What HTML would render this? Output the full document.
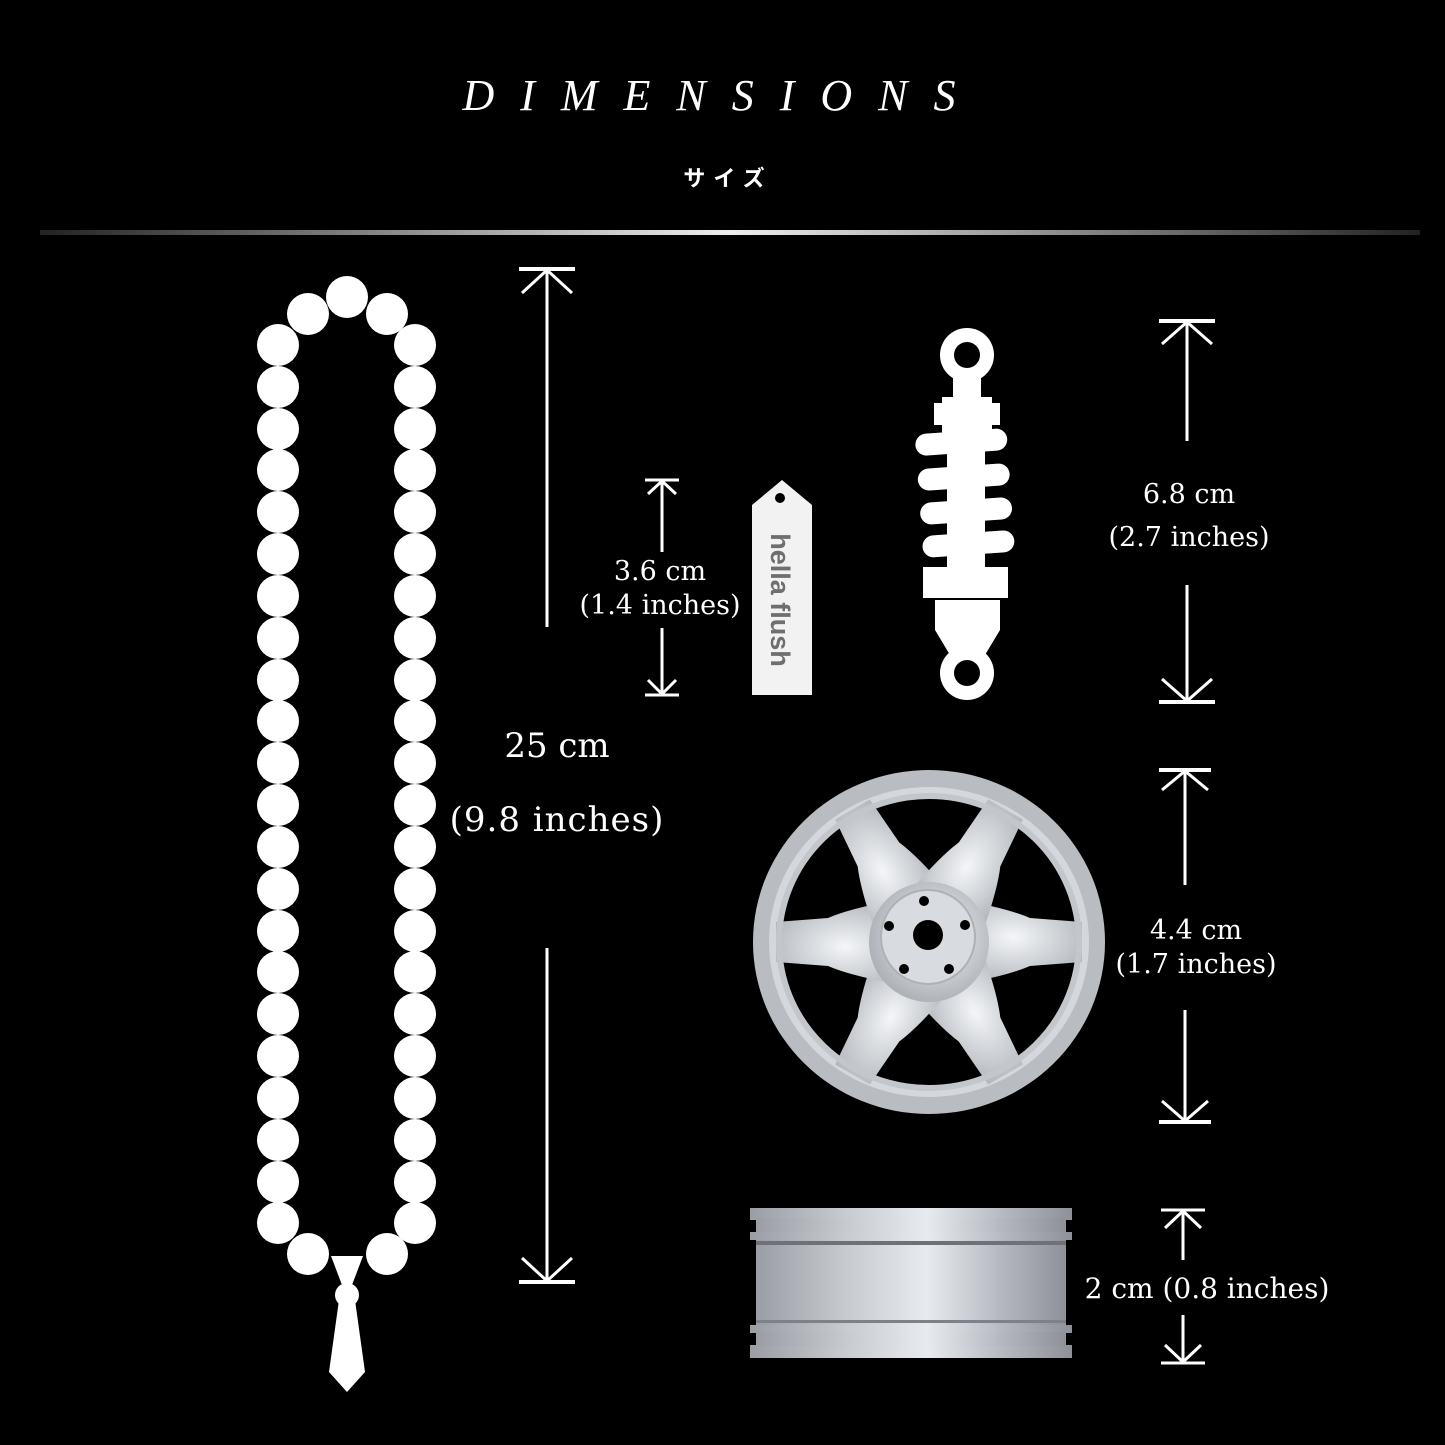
<!DOCTYPE html>
<html><head><meta charset="utf-8"><style>
html,body{margin:0;padding:0;background:#000;}
body{width:1445px;height:1445px;overflow:hidden;position:relative;}
svg{position:absolute;left:0;top:0;}
</style></head><body>
<svg width="1445" height="1445" viewBox="0 0 1445 1445" xmlns="http://www.w3.org/2000/svg">
<defs>
<linearGradient id="hl" x1="0" x2="1" y1="0" y2="0">
<stop offset="0" stop-color="#222"/><stop offset="0.5" stop-color="#eee"/><stop offset="1" stop-color="#222"/>
</linearGradient>
<radialGradient id="wh" cx="0.55" cy="0.45" r="0.6">
<stop offset="0" stop-color="#f4f6f8"/><stop offset="1" stop-color="#a9adb3"/>
</radialGradient>
<linearGradient id="rim" x1="0" x2="1" y1="0" y2="0">
<stop offset="0" stop-color="#9a9ea4"/><stop offset="0.3" stop-color="#c8ccd1"/><stop offset="0.55" stop-color="#e7eaee"/><stop offset="0.8" stop-color="#b3b7bd"/><stop offset="1" stop-color="#8e9298"/>
</linearGradient>
</defs>

<text x="722" y="110" text-anchor="middle" fill="#fff" font-family="Liberation Serif, serif" font-style="italic" font-size="44" letter-spacing="26">DIMENSIONS</text>
<text x="728" y="186" text-anchor="middle" fill="#fff" font-family="Liberation Sans, 'Noto Sans CJK JP', sans-serif" font-weight="bold" font-size="22" letter-spacing="8">サイズ</text>
<rect x="40" y="230" width="1380" height="5" fill="url(#hl)"/>

<g fill="#fff">
<circle cx="347" cy="297" r="21"/>
<circle cx="308" cy="314" r="21"/><circle cx="387" cy="314" r="21"/>
<g id="col">
<circle cx="278" cy="345" r="21"/><circle cx="278" cy="387" r="21"/><circle cx="278" cy="429" r="21"/><circle cx="278" cy="470" r="21"/><circle cx="278" cy="512" r="21"/><circle cx="278" cy="554" r="21"/><circle cx="278" cy="596" r="21"/><circle cx="278" cy="638" r="21"/><circle cx="278" cy="680" r="21"/><circle cx="278" cy="721" r="21"/><circle cx="278" cy="763" r="21"/><circle cx="278" cy="805" r="21"/><circle cx="278" cy="847" r="21"/><circle cx="278" cy="889" r="21"/><circle cx="278" cy="931" r="21"/><circle cx="278" cy="972" r="21"/><circle cx="278" cy="1014" r="21"/><circle cx="278" cy="1056" r="21"/><circle cx="278" cy="1098" r="21"/><circle cx="278" cy="1140" r="21"/><circle cx="278" cy="1182" r="21"/><circle cx="278" cy="1223" r="21"/>
</g>
<use href="#col" x="137"/>
<circle cx="308" cy="1254" r="21"/><circle cx="387" cy="1254" r="21"/>
<polygon points="331,1256 363,1256 352,1285 342,1285"/>
<circle cx="347" cy="1295" r="12"/>
<polygon points="339,1300 355,1300 365,1372 347,1392 329,1372"/>
</g>

<g stroke="#fff" stroke-width="3" fill="none">
<line x1="519" y1="269" x2="575" y2="269" stroke-width="4"/>
<line x1="547" y1="269" x2="547" y2="627"/>
<polyline points="522,293 547,270 572,293"/>
<line x1="547" y1="948" x2="547" y2="1281"/>
<polyline points="522,1258 547,1281 572,1258"/>
<line x1="519" y1="1282" x2="575" y2="1282" stroke-width="4"/>

<line x1="645" y1="480" x2="679" y2="480" stroke-width="3"/>
<line x1="662" y1="480" x2="662" y2="552"/>
<polyline points="648,494 662,481 676,494"/>
<line x1="662" y1="628" x2="662" y2="694"/>
<polyline points="648,680 662,694 676,680"/>
<line x1="645" y1="695" x2="679" y2="695" stroke-width="3"/>

<line x1="1159" y1="321" x2="1215" y2="321" stroke-width="4"/>
<line x1="1187" y1="321" x2="1187" y2="441"/>
<polyline points="1162,344 1187,322 1212,344"/>
<line x1="1187" y1="585" x2="1187" y2="702"/>
<polyline points="1162,679 1187,701 1212,679"/>
<line x1="1159" y1="702" x2="1215" y2="702" stroke-width="4"/>

<line x1="1159" y1="770" x2="1211" y2="770" stroke-width="4"/>
<line x1="1185" y1="770" x2="1185" y2="885"/>
<polyline points="1162,790 1185,771 1208,790"/>
<line x1="1185" y1="1010" x2="1185" y2="1121"/>
<polyline points="1162,1101 1185,1121 1208,1101"/>
<line x1="1159" y1="1122" x2="1211" y2="1122" stroke-width="4"/>

<line x1="1161" y1="1210" x2="1205" y2="1210" stroke-width="3"/>
<line x1="1183" y1="1210" x2="1183" y2="1260"/>
<polyline points="1165,1228 1183,1211 1201,1228"/>
<line x1="1183" y1="1315" x2="1183" y2="1362"/>
<polyline points="1165,1345 1183,1362 1201,1345"/>
<line x1="1161" y1="1363" x2="1205" y2="1363" stroke-width="3"/>
</g>

<g fill="#fff" font-family="DejaVu Serif, serif" text-anchor="middle">
<text x="557" y="757" font-size="34">25 cm</text>
<text x="557" y="831" font-size="34" letter-spacing="1">(9.8 inches)</text>
<text x="660" y="580" font-size="27">3.6 cm</text>
<text x="660" y="614" font-size="27">(1.4 inches)</text>
<text x="1189" y="503" font-size="27">6.8 cm</text>
<text x="1189" y="546" font-size="27">(2.7 inches)</text>
<text x="1196" y="939" font-size="27">4.4 cm</text>
<text x="1196" y="973" font-size="27">(1.7 inches)</text>
<text x="1207" y="1298" font-size="28">2 cm (0.8 inches)</text>
</g>

<path d="M752,505 L782,480 L812,505 L812,695 L752,695 Z" fill="#f2f2f2"/>
<circle cx="780" cy="498" r="5" fill="#000"/>
<text transform="translate(778,600) rotate(90)" text-anchor="middle" font-family="Liberation Sans, sans-serif" font-weight="bold" font-size="27" fill="#6f6f6f" dominant-baseline="middle">hella flush</text>

<g fill="#fff">
<circle cx="967" cy="355" r="27"/>
<rect x="953" y="370" width="28" height="30"/>
<rect x="942" y="397" width="50" height="36"/>
<rect x="934" y="403" width="66" height="22"/>
<rect x="947" y="430" width="38" height="140"/>
<g transform="rotate(-4 965 495)">
<rect x="919" y="431" width="92" height="22" rx="11"/>
<rect x="919" y="466" width="92" height="22" rx="11"/>
<rect x="919" y="500" width="92" height="22" rx="11"/>
<rect x="919" y="533" width="92" height="22" rx="11"/>
</g>
<rect x="923" y="567" width="85" height="31"/>
<path d="M935,600 L1000,600 L1000,630 L985,655 L950,655 L935,630 Z"/>
<circle cx="967" cy="673" r="27"/>
</g>
<circle cx="967" cy="355" r="13" fill="#000"/>
<circle cx="967" cy="673" r="13" fill="#000"/>

<ellipse cx="929" cy="942" rx="176" ry="172" fill="#b9bdc2"/>
<ellipse cx="929" cy="942" rx="160" ry="155" fill="#d4d7db"/>
<ellipse cx="929" cy="942" rx="150" ry="146" fill="#000"/>
<g fill="url(#wh)">
<g id="sp"><path d="M929,895 Q1000,905 1030,918 L1082,922 L1082,962 L1030,966 Q1000,979 929,989 Z"/></g>
<use href="#sp" transform="rotate(60 929 942)"/>
<use href="#sp" transform="rotate(120 929 942)"/>
<use href="#sp" transform="rotate(180 929 942)"/>
<use href="#sp" transform="rotate(240 929 942)"/>
<use href="#sp" transform="rotate(300 929 942)"/>
<circle cx="929" cy="942" r="60"/>
</g>
<ellipse cx="929" cy="942" rx="150" ry="146" fill="none" stroke="#c3c7cc" stroke-width="6"/>
<circle cx="928" cy="937" r="47" fill="#d8dbdf" stroke="#aeb2b7" stroke-width="2"/>
<g fill="#000">
<circle cx="928" cy="935" r="15"/>
<circle cx="924" cy="901" r="5"/>
<circle cx="889" cy="926" r="5"/>
<circle cx="965" cy="925" r="5"/>
<circle cx="904" cy="969" r="5"/>
<circle cx="949" cy="969" r="5"/>
</g>

<rect x="750" y="1208" width="322" height="12" fill="url(#rim)"/>
<rect x="756" y="1218" width="310" height="114" fill="url(#rim)"/>
<rect x="750" y="1345" width="322" height="13" fill="url(#rim)"/>
<rect x="750" y="1232" width="322" height="8" fill="url(#rim)"/>
<rect x="750" y="1325" width="322" height="8" fill="url(#rim)"/>
<rect x="756" y="1332" width="310" height="14" fill="url(#rim)"/>
<rect x="756" y="1241" width="310" height="4" fill="#6e7278"/>
<rect x="756" y="1320" width="310" height="3" fill="#7e8288"/>
</svg>
</body></html>
